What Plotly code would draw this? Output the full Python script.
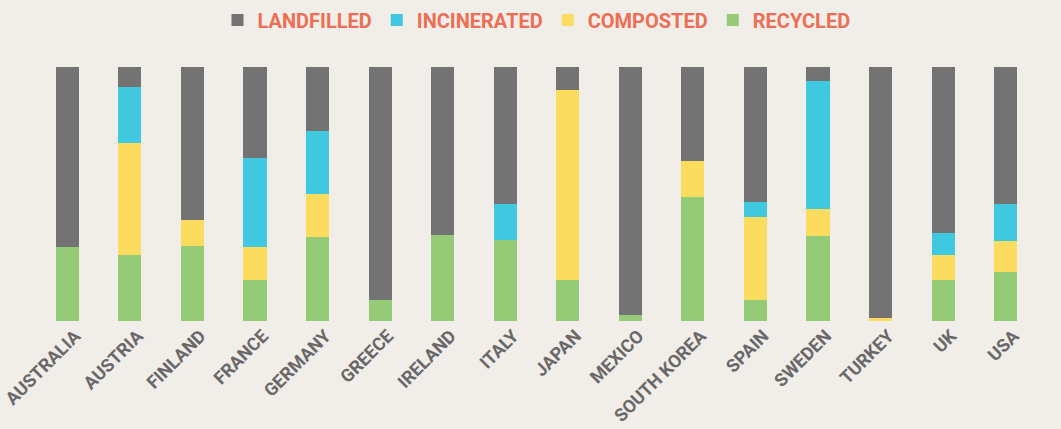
import plotly.graph_objects as go

countries = ["AUSTRALIA", "AUSTRIA", "FINLAND", "FRANCE", "GERMANY", "GREECE", "IRELAND", "ITALY",
             "JAPAN", "MEXICO", "SOUTH KOREA", "SPAIN", "SWEDEN", "TURKEY", "UK", "USA"]
recycled    = [29.0, 26.0, 29.5, 16.0, 33.0, 8.4, 34.0, 32.0, 16.0, 2.5, 49.0, 8.4, 33.4, 0.0, 16.3, 19.3]
composted   = [0.0, 44.0, 10.3, 13.0, 17.0, 0.0, 0.0, 0.0, 75.0, 0.0, 14.0, 32.6, 10.5, 1.0, 9.6, 12.2]
incinerated = [0.0, 22.0, 0.0, 35.0, 25.0, 0.0, 0.0, 14.0, 0.0, 0.0, 0.0, 6.0, 50.4, 0.0, 8.6, 14.4]
landfilled  = [71.0, 8.0, 60.2, 36.0, 25.0, 91.6, 66.0, 54.0, 9.0, 97.5, 37.0, 53.0, 5.7, 99.0, 65.5, 54.1]

series = [
    ("RECYCLED", recycled, "#95cb77"),
    ("COMPOSTED", composted, "#fbdc5e"),
    ("INCINERATED", incinerated, "#3fc8df"),
    ("LANDFILLED", landfilled, "#747374"),
]

fig = go.Figure()
for name, vals, col in series:
    fig.add_trace(go.Bar(x=countries, y=vals, name=name, marker=dict(color=col, line=dict(width=0)),
                         width=0.37))

fnt = "Roboto"
fig.update_layout(
    barmode="stack",
    width=1061, height=429,
    paper_bgcolor="#f1eee9", plot_bgcolor="#f1eee9",
    margin=dict(l=36, r=24, t=67, b=108, autoexpand=False),
    showlegend=True,
    legend=dict(orientation="h", x=0.5, xanchor="center", y=1.185, yanchor="middle",
                traceorder="reversed", font=dict(family=fnt, size=20, color="#ec6f55", weight="bold"),
                bgcolor="rgba(0,0,0,0)", itemwidth=30),
    xaxis=dict(tickangle=-45, showgrid=False, zeroline=False, showline=False, ticks="",
               range=[-0.5, 15.5], automargin=False, ticklabelshift=8,
               tickfont=dict(family=fnt, size=18, color="#6a6869", weight="bold")),
    yaxis=dict(range=[0, 100], visible=False),
)

post = """
var s=document.createElement('style');
s.innerHTML='html,body{margin:0;padding:0;overflow:hidden}';
document.head.appendChild(s);
"""
fig.write_html("out.html", post_script=post, config={"displayModeBar": False})
